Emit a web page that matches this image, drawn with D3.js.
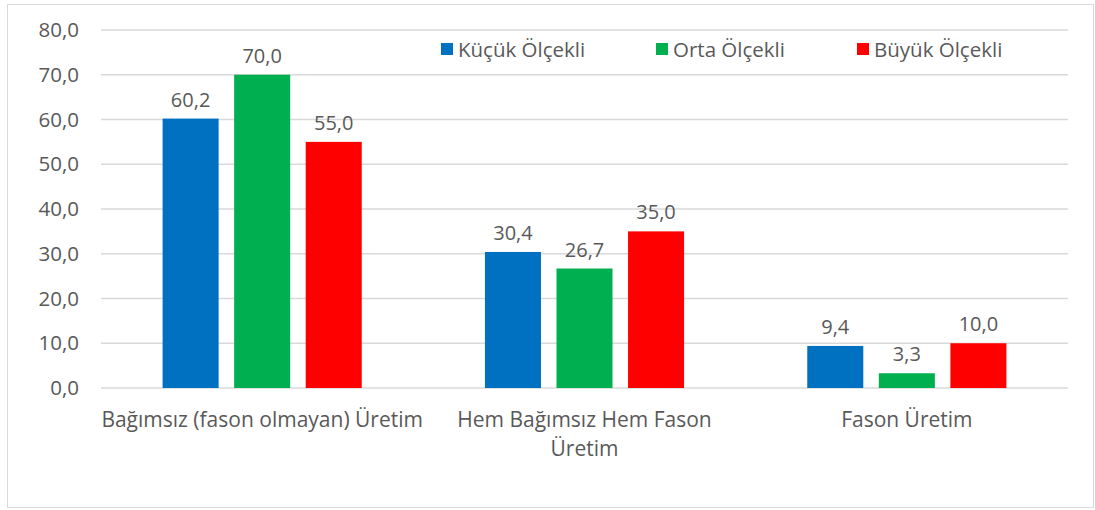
<!DOCTYPE html>
<html>
<head>
<meta charset="utf-8">
<script src="https://cdn.jsdelivr.net/npm/d3@7"></script>
<style>
  body { margin: 0; background: #fff; }
  text { font-family: "Open Sans", sans-serif; fill: #595959; }
</style>
</head>
<body>
<svg id="chart" width="1095" height="510"></svg>
<script>
// chart data
var categories = ["Bağımsız (fason olmayan) Üretim", "Hem Bağımsız Hem Fason Üretim", "Fason Üretim"];
var categoryLines = [["Bağımsız (fason olmayan) Üretim"], ["Hem Bağımsız Hem Fason", "Üretim"], ["Fason Üretim"]];
var seriesNames = ["Küçük Ölçekli", "Orta Ölçekli", "Büyük Ölçekli"];
var seriesColors = ["#0070c0", "#00b050", "#ff0000"];
var kucuk = [60.2, 30.4, 9.4];
var orta = [70.0, 26.7, 3.3];
var buyuk = [55.0, 35.0, 10.0];
var yTicks = [0, 10, 20, 30, 40, 50, 60, 70, 80];

var seriesValues = [kucuk, orta, buyuk];
var fmt = function(v) { return d3.format(".1f")(v).replace(".", ","); };

var svg = d3.select("#chart");
var plotLeft = 101, plotRight = 1068, plotTop = 30, plotBottom = 388;

// outer border
svg.append("rect")
   .attr("x", 7.5).attr("y", 4.5)
   .attr("width", 1086).attr("height", 503)
   .attr("fill", "none")
   .attr("stroke", "#d9d9d9");

var x0 = d3.scaleBand().domain(categories).range([plotLeft, plotRight]);
var groupPad = 61.6;
var x1 = d3.scaleBand().domain(seriesNames).range([groupPad, x0.bandwidth() - groupPad]).paddingInner(0.217);
var y = d3.scaleLinear().domain([0, 80]).range([plotBottom, plotTop]);

// gridlines
svg.append("g").selectAll("line")
   .data(yTicks)
   .enter()
   .append("line")
   .attr("x1", plotLeft).attr("x2", plotRight)
   .attr("y1", d => y(d)).attr("y2", d => y(d))
   .attr("stroke", "#d9d9d9")
   .attr("stroke-width", 1.3);

// y axis labels
var yAxis = d3.axisLeft(y).tickValues(yTicks).tickFormat(fmt).tickSize(0).tickPadding(22);
var gy = svg.append("g").attr("transform", "translate(" + plotLeft + ",0)").call(yAxis);
gy.attr("font-family", null).attr("font-size", null);
gy.select(".domain").remove();
gy.selectAll("text").attr("font-size", 20.5).attr("fill", null);

// bars
var groups = svg.append("g").selectAll("g")
   .data(categories)
   .enter()
   .append("g")
   .attr("transform", d => "translate(" + x0(d) + ",0)");

groups.selectAll("rect")
   .data((d, i) => seriesNames.map((s, j) => ({series: s, value: seriesValues[j][i], color: seriesColors[j]})))
   .enter()
   .append("rect")
   .attr("x", d => x1(d.series))
   .attr("y", d => y(d.value))
   .attr("width", x1.bandwidth())
   .attr("height", d => y(0) - y(d.value))
   .attr("fill", d => d.color);

groups.selectAll("text")
   .data((d, i) => seriesNames.map((s, j) => ({series: s, value: seriesValues[j][i]})))
   .enter()
   .append("text")
   .attr("x", d => x1(d.series) + x1.bandwidth() / 2)
   .attr("y", d => y(d.value) - 12)
   .attr("text-anchor", "middle")
   .attr("font-size", 20)
   .text(d => fmt(d.value));

// category labels
var cat = svg.append("g").selectAll("text")
   .data(categories)
   .enter()
   .append("text")
   .attr("x", d => x0(d) + x0.bandwidth() / 2)
   .attr("y", 427)
   .attr("text-anchor", "middle")
   .attr("font-size", 21);
cat.selectAll("tspan")
   .data((d, i) => categoryLines[i])
   .enter()
   .append("tspan")
   .attr("x", function() { return this.parentNode.getAttribute("x"); })
   .attr("dy", (d, i) => i == 0 ? 0 : 29)
   .text(d => d);

// legend
var legendX = [441, 656, 857];
var legend = svg.append("g").selectAll("g")
   .data(seriesNames)
   .enter()
   .append("g")
   .attr("transform", (d, i) => "translate(" + legendX[i] + ",43)");
legend.append("rect")
   .attr("width", 12).attr("height", 12)
   .attr("fill", (d, i) => seriesColors[i]);
legend.append("text")
   .attr("x", 17).attr("y", 13.5)
   .attr("font-size", 20.5)
   .text(d => d);
</script>
</body>
</html>
